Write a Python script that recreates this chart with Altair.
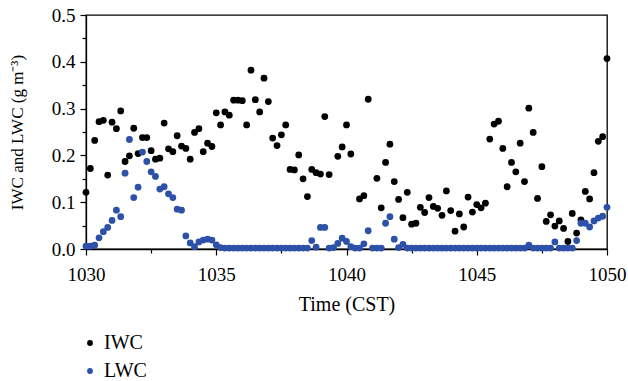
import altair as alt
import pandas as pd

# Sample index (10-s steps from 10:30 CST) -> time in minutes label 1030..1050
step_minutes = [i / 6 for i in range(121)]

iwc = [
    0.121, 0.172, 0.232, 0.272, 0.275, 0.158, 0.271, 0.257, 0.295, 0.187,
    0.199, 0.258, 0.204, 0.238, 0.238, 0.210, 0.192, 0.194, 0.269, 0.214,
    0.208, 0.242, 0.220, 0.215, 0.192, 0.249, 0.257, 0.208, 0.226, 0.219,
    0.291, 0.265, 0.293, 0.286, 0.318, 0.318, 0.317, 0.265, 0.382, 0.319,
    0.293, 0.365, 0.315, 0.237, 0.221, 0.244, 0.265, 0.170, 0.169, 0.201,
    0.150, 0.112, 0.170, 0.163, 0.160, 0.283, 0.159, None, 0.198, 0.218,
    0.265, 0.203, None, 0.107, 0.114, 0.320, None, 0.151, 0.088, 0.185,
    0.224, 0.144, 0.106, 0.067, 0.121, 0.053, 0.055, 0.089, 0.078, 0.110,
    0.091, 0.087, 0.072, 0.124, 0.082, 0.038, 0.075, 0.047, 0.111, 0.079,
    0.095, 0.088, 0.098, 0.235, 0.267, 0.273, 0.215, 0.133, 0.185, 0.165,
    0.226, 0.144, 0.301, 0.249, 0.108, 0.176, 0.059, 0.073, 0.049, 0.060,
    0.044, 0.016, 0.076, 0.034, 0.062, 0.123, 0.107, 0.163, 0.230, 0.240,
    0.407,
]

lwc = [
    0.006, 0.006, 0.008, 0.024, 0.037, 0.046, 0.061, 0.083, 0.069, 0.162,
    0.234, 0.110, 0.132, 0.207, 0.187, 0.165, 0.155, 0.128, 0.133, 0.118,
    0.110, 0.085, 0.083, 0.028, 0.013, 0.005, 0.015, 0.019, 0.021, 0.019,
    0.009, 0.003, 0.002, 0.002, 0.002, 0.002, 0.002, 0.002, 0.002, 0.002,
    0.002, 0.002, 0.002, 0.002, 0.002, 0.002, 0.002, 0.002, 0.002, 0.002,
    0.002, 0.002, 0.018, 0.004, 0.046, 0.046, 0.002, 0.003, 0.012, 0.023,
    0.016, 0.005, 0.002, 0.002, 0.011, 0.039, 0.002, 0.002, 0.002, 0.055,
    0.069, 0.021, 0.003, 0.010, 0.002, 0.002, 0.002, 0.002, 0.002, 0.002,
    0.002, 0.002, 0.002, 0.002, 0.002, 0.002, 0.002, 0.002, 0.002, 0.002,
    0.002, 0.002, 0.002, 0.002, 0.002, 0.002, 0.002, 0.002, 0.002, 0.002,
    0.002, 0.002, 0.008, 0.002, 0.002, 0.002, 0.002, 0.002, 0.015, 0.002,
    0.002, 0.002, 0.002, 0.018, 0.055, 0.055, 0.047, 0.060, 0.066, 0.070,
    0.089,
]

x_major = [1030, 1035, 1040, 1045, 1050]
x_minor = [1032.5, 1037.5, 1042.5, 1047.5]
y_major = [0.0, 0.1, 0.2, 0.3, 0.4, 0.5]
y_minor = [0.05, 0.15, 0.25, 0.35, 0.45]

series_names = ["IWC", "LWC"]
series_colors = ["#000000", "#2d51a8"]

times = [1030 + m for m in step_minutes]
df = pd.DataFrame(
    {"time": times * 2,
     "value": iwc + lwc,
     "series": ["IWC"] * len(iwc) + ["LWC"] * len(lwc)}
)

FONT = "Liberation Serif"
xdom = [1030, 1050]
ydom = [0, 0.5]

points = alt.Chart(df).mark_circle(size=46, opacity=1).encode(
    x=alt.X("time:Q", scale=alt.Scale(domain=xdom, nice=False, zero=False),
            axis=alt.Axis(values=x_major, format="d", title="Time (CST)",
                          tickSize=6, labelPadding=10, titlePadding=10,
                          labelFlush=False, labelFontSize=19,
                          titleFontSize=20, orient="bottom")),
    y=alt.Y("value:Q", scale=alt.Scale(domain=ydom, nice=False),
            axis=alt.Axis(values=y_major, format=".1f",
                          title="IWC and LWC (g m\u207b\u00b3)",
                          tickSize=6, labelPadding=5, titlePadding=25,
                          labelFontSize=19, titleFontSize=17,
                          labelFlush=False, orient="left")),
    color=alt.Color("series:N",
                    scale=alt.Scale(domain=series_names, range=series_colors),
                    legend=alt.Legend(title=None, orient="none",
                                      legendX=-6, legendY=318,
                                      symbolType="circle", symbolSize=34,
                                      labelFontSize=20, labelFont=FONT,
                                      labelOffset=4, rowPadding=8,
                                      padding=0)),
)

minor = alt.Chart(df).mark_circle(opacity=0).encode(
    x=alt.X("time:Q", scale=alt.Scale(domain=xdom, nice=False, zero=False),
            axis=alt.Axis(values=x_minor, labels=False, domain=False,
                          title=None, tickSize=4, orient="bottom")),
    y=alt.Y("value:Q", scale=alt.Scale(domain=ydom, nice=False),
            axis=alt.Axis(values=y_minor, labels=False, domain=False,
                          title=None, tickSize=4, orient="left")),
)

chart = alt.layer(points, minor).resolve_scale(
    x="independent", y="independent"
).properties(
    width=521, height=234,
    autosize=alt.AutoSizeParams(type="none"),
    padding={"left": 86, "top": 15, "right": 21, "bottom": 132},
).configure_view(
    stroke="#000000", strokeWidth=1.3
).configure_axis(
    labelFont=FONT, titleFont=FONT,
    labelColor="#000000", titleColor="#000000", tickColor="#000000",
    domainColor="#000000", grid=False, titleFontWeight="normal",
    domainWidth=1.3, tickWidth=1.2,
).configure_legend(
    labelColor="#000000"
)

chart.save("out.html", embed_options={"renderer": "svg", "actions": False})
